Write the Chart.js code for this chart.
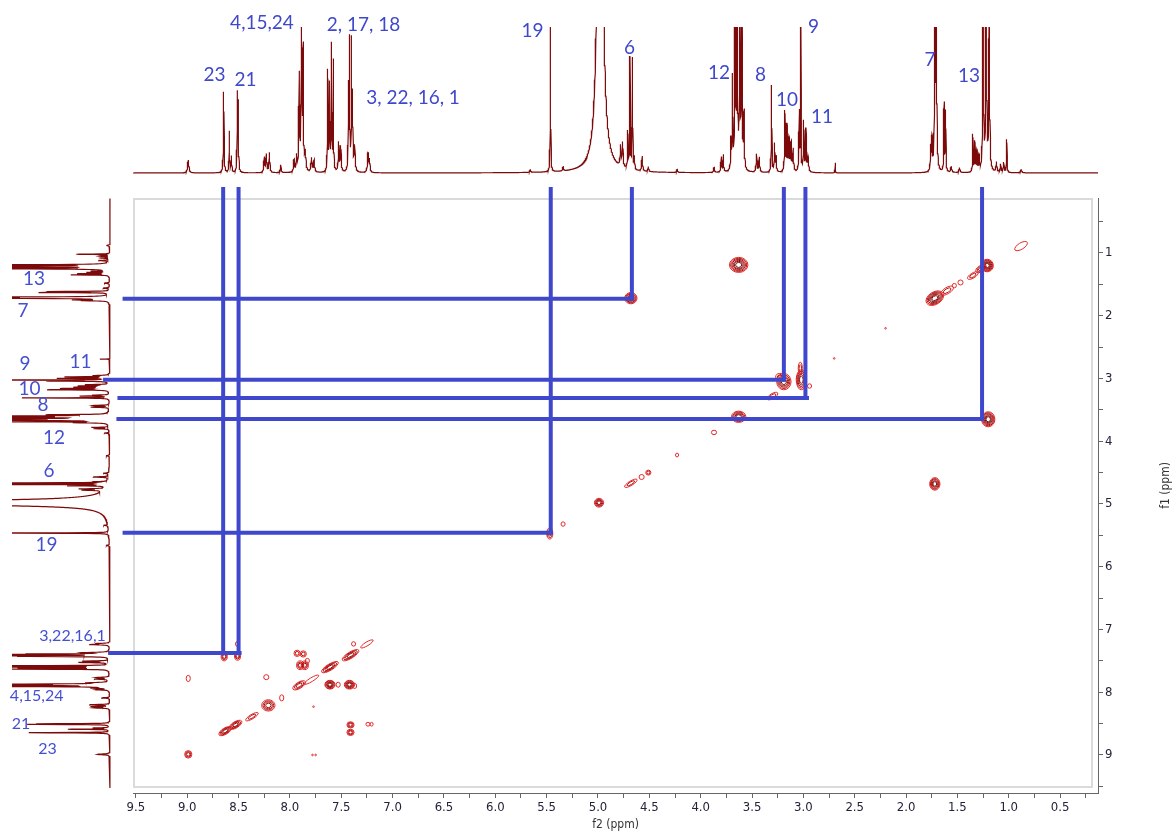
<!DOCTYPE html>
<html>
<head>
<meta charset="utf-8">
<script src="https://cdn.jsdelivr.net/npm/chart.js@4.4.1/dist/chart.umd.min.js"></script>
<style>
  html, body { margin: 0; padding: 0; background: #fff; }
  #wrap { position: relative; width: 1174px; height: 832px; }
  #wrap canvas { position: absolute; left: 0; top: 0; }
</style>
</head>
<body>
<div id="wrap">
  <canvas id="topSpec" width="1174" height="195"></canvas>
  <canvas id="leftSpec" width="133" height="832"></canvas>
  <canvas id="cosy" width="1174" height="832"></canvas>
</div>
<script>
// 1H peak list: [shift ppm, height, half width ppm]
const protonPeaks = [
  [8.99, 13, 0.007],
  [8.645, 81, 0.0035], [8.59, 41, 0.003], [8.57, 16, 0.004],
  [8.512, 76, 0.003], [8.503, 66, 0.003],
  [8.25, 15, 0.005], [8.23, 18, 0.005], [8.20, 20, 0.005], [8.09, 8, 0.005],
  [7.96, 12, 0.005], [7.935, 15, 0.005],
  [7.91, 95, 0.004], [7.888, 150, 0.004], [7.872, 120, 0.004], [7.85, 18, 0.006],
  [7.79, 14, 0.006], [7.765, 12, 0.006],
  [7.632, 100, 0.003], [7.615, 85, 0.003], [7.597, 125, 0.003], [7.578, 110, 0.003],
  [7.525, 29, 0.005], [7.505, 25, 0.005],
  [7.43, 80, 0.003], [7.42, 128, 0.003], [7.40, 127, 0.003], [7.39, 70, 0.003], [7.37, 25, 0.006],
  [7.24, 19, 0.006], [7.225, 12, 0.005],
  [5.66, 3, 0.005], [5.463, 150, 0.0025], [5.34, 4, 0.005],
  [4.98, 700, 0.02],
  [4.78, 20, 0.005], [4.76, 24, 0.005],
  [4.71, 36, 0.003], [4.689, 111, 0.003], [4.665, 111, 0.003], [4.645, 12, 0.003],
  [4.57, 15, 0.005], [4.51, 5, 0.005], [4.23, 3, 0.006],
  [3.87, 5, 0.005], [3.80, 15, 0.004], [3.78, 17, 0.004],
  [3.705, 30, 0.004], [3.69, 90, 0.003], [3.665, 200, 0.004], [3.645, 220, 0.004],
  [3.62, 160, 0.004], [3.60, 200, 0.004], [3.578, 55, 0.004],
  [3.456, 18, 0.005], [3.43, 15, 0.005],
  [3.31, 87, 0.003], [3.28, 28, 0.004], [3.265, 15, 0.004],
  [3.18, 60, 0.004], [3.16, 45, 0.004], [3.14, 32, 0.005], [3.12, 28, 0.005], [3.10, 22, 0.005],
  [3.04, 60, 0.004], [3.025, 150, 0.002],
  [2.997, 50, 0.004], [2.975, 42, 0.004], [2.955, 15, 0.006],
  [2.69, 10, 0.002],
  [1.76, 23, 0.004], [1.748, 30, 0.004], [1.72, 200, 0.004], [1.705, 200, 0.004],
  [1.63, 68, 0.003], [1.615, 60, 0.003], [1.56, 6, 0.006], [1.48, 5, 0.006],
  [1.35, 37, 0.003], [1.33, 30, 0.004], [1.31, 20, 0.004], [1.29, 15, 0.004],
  [1.25, 200, 0.004], [1.22, 260, 0.004], [1.19, 200, 0.004],
  [1.12, 10, 0.005], [1.08, 8, 0.005], [1.05, 10, 0.005], [1.02, 33, 0.003],
  [0.88, 3, 0.008]
];

// COSY contours: [f2, f1, half width f2 (or along diagonal), half width f1, contour levels, along diagonal?]
const diagonalPeaks = [
  [0.88, 0.89, 0.06, 0.05, 1, 1],
  [1.21, 1.20, 0.06, 0.10, 6, 0], [1.27, 1.25, 0.05, 0.05, 3, 1],
  [1.35, 1.36, 0.05, 0.04, 2, 1], [1.47, 1.47, 0.025, 0.04, 1, 0], [1.53, 1.52, 0.02, 0.035, 1, 0],
  [1.60, 1.60, 0.06, 0.05, 2, 1], [1.72, 1.72, 0.08, 0.10, 6, 1],
  [2.20, 2.20, 0.006, 0.01, 1, 0], [2.70, 2.68, 0.006, 0.01, 1, 0],
  [3.30, 3.28, 0.05, 0.04, 2, 1],
  [3.63, 3.61, 0.07, 0.09, 5, 0], [3.87, 3.86, 0.025, 0.035, 1, 0],
  [4.23, 4.22, 0.015, 0.03, 1, 0], [4.51, 4.50, 0.025, 0.04, 2, 0], [4.575, 4.57, 0.025, 0.04, 1, 0],
  [4.68, 4.67, 0.06, 0.035, 2, 1], [4.99, 4.98, 0.045, 0.07, 4, 0],
  [5.34, 5.32, 0.02, 0.035, 1, 0], [5.47, 5.47, 0.03, 0.09, 3, 0],
  [7.25, 7.23, 0.06, 0.03, 1, 1], [7.41, 7.41, 0.08, 0.05, 4, 1], [7.61, 7.60, 0.08, 0.05, 4, 1],
  [7.79, 7.80, 0.07, 0.03, 1, 1], [7.91, 7.89, 0.06, 0.05, 3, 1],
  [8.08, 8.09, 0.02, 0.05, 1, 0], [8.21, 8.21, 0.065, 0.09, 4, 0], [8.37, 8.39, 0.06, 0.035, 2, 1],
  [8.53, 8.52, 0.06, 0.05, 4, 1], [8.63, 8.62, 0.06, 0.05, 4, 1],
  [8.99, 8.99, 0.035, 0.06, 3, 0]
];
const crossPeaks = [
  [3.63, 1.19, 0.09, 0.12, 6, 0], [1.20, 3.65, 0.065, 0.12, 6, 0],
  [4.68, 1.72, 0.06, 0.09, 5, 0], [1.72, 4.68, 0.05, 0.10, 5, 0],
  [3.03, 2.84, 0.02, 0.10, 2, 0], [3.19, 3.05, 0.07, 0.13, 5, 0], [3.23, 2.98, 0.04, 0.06, 2, 0],
  [3.02, 3.02, 0.05, 0.16, 5, 0], [2.94, 3.12, 0.02, 0.035, 1, 0],
  [8.64, 7.43, 0.03, 0.07, 3, 0], [8.51, 7.42, 0.03, 0.07, 3, 0], [8.51, 7.23, 0.02, 0.04, 1, 0],
  [8.99, 7.78, 0.02, 0.05, 1, 0], [8.23, 7.76, 0.025, 0.04, 1, 0],
  [7.93, 7.38, 0.03, 0.05, 2, 0], [7.87, 7.39, 0.03, 0.05, 2, 0],
  [7.90, 7.57, 0.035, 0.07, 3, 0], [7.855, 7.57, 0.035, 0.07, 3, 0], [7.83, 7.50, 0.02, 0.04, 1, 0],
  [7.61, 7.88, 0.05, 0.07, 5, 0], [7.53, 7.88, 0.02, 0.04, 1, 0],
  [7.42, 7.88, 0.05, 0.07, 5, 0], [7.37, 7.90, 0.02, 0.04, 1, 0],
  [7.41, 8.52, 0.035, 0.05, 3, 0], [7.41, 8.64, 0.035, 0.05, 3, 0],
  [7.24, 8.51, 0.02, 0.03, 1, 0], [7.205, 8.51, 0.015, 0.03, 1, 0],
  [7.38, 7.23, 0.02, 0.035, 1, 0],
  [7.77, 8.23, 0.008, 0.01, 1, 0], [7.78, 9.00, 0.008, 0.01, 1, 0], [7.75, 9.00, 0.008, 0.01, 1, 0]
];

// assignment guides: vertical [f2, f1 end], horizontal [f1, f2 start, f2 end]
const verticalLinks = [[8.65, 7.38], [8.50, 7.38], [5.46, 5.46], [4.67, 1.73], [3.19, 3.02], [2.98, 3.31], [1.26, 3.645]];
const horizontalLinks = [[7.375, 9.75, 8.49], [5.46, 9.61, 5.46], [1.73, 9.61, 4.67], [3.02, 9.80, 3.19], [3.31, 9.66, 2.965], [3.645, 9.67, 1.26]];
const linkTop = -0.02;

// labels: [text, f2 ppm, height] on top trace; [text, height, f1 ppm] on side trace
const topLabels = [
  ['23', 8.734, 98], ['21', 8.432, 93], ['4,15,24', 8.272, 150], ['2, 17, 18', 7.283, 148],
  ['3, 22, 16, 1', 6.801, 75], ['19', 5.638, 142], ['6', 4.693, 125], ['12', 3.822, 100],
  ['8', 3.418, 98], ['10', 3.16, 73], ['9', 2.902, 146], ['11', 2.819, 56], ['7', 1.767, 113], ['13', 1.388, 97]
];
const sideLabels = [
  ['13', 76, 1.42], ['7', 87, 1.93], ['9', 85, 2.76], ['11', 29.5, 2.73], ['10', 80.5, 3.16],
  ['8', 67, 3.42], ['12', 56, 3.94], ['6', 61, 4.48], ['19', 63.5, 5.65]
];
const sideLabelsSmall = [
  ['3,22,16,1', 37.5, 7.10], ['4,15,24', 73.3, 8.06], ['21', 89, 8.51], ['23', 62.5, 8.90]
];

const F2_MIN = 0.131, F2_MAX = 9.528;
const F1_MIN = 0.1235, F1_MAX = 9.606;
const BLUE = '#3f48cc';
const TRACE = '#7d0a0a';
const tickFont = { family: "'DejaVu Sans Condensed', 'Liberation Sans Narrow', 'DejaVu Sans', sans-serif", size: 13 };

Chart.defaults.font.family = "'DejaVu Sans', sans-serif";

function traceData(peaks) {
  const xs = [];
  for (let v = F2_MIN; v <= F2_MAX; v += 0.002) xs.push(v);
  peaks.forEach(p => xs.push(p[0]));
  xs.sort((a, b) => a - b);
  return xs.map(v => {
    let s = 0;
    for (const [c, h, w] of peaks) s += h * w * w / (w * w + (v - c) * (v - c));
    return [v, s];
  });
}
const trace = traceData(protonPeaks);

// draws label lists in a chart's own data units
const labelPlugin = {
  id: 'peakLabels',
  afterDatasetsDraw(chart, args, opts) {
    const { ctx, scales: { x, y } } = chart;
    ctx.save();
    ctx.fillStyle = opts.color;
    ctx.textAlign = 'center';
    ctx.textBaseline = 'middle';
    (opts.groups || []).forEach(g => {
      ctx.font = g.font;
      g.items.forEach(it => {
        ctx.fillText(it[0], x.getPixelForValue(it[1]), y.getPixelForValue(it[2]));
      });
    });
    ctx.restore();
  }
};

new Chart(document.getElementById('topSpec'), {
  type: 'scatter',
  data: {
    datasets: [{
      data: trace.map(p => ({ x: p[0], y: p[1] })),
      showLine: true, borderColor: TRACE, borderWidth: 1.2, pointRadius: 0, tension: 0
    }]
  },
  options: {
    responsive: false, animation: false, events: [],
    layout: { padding: { left: 133, right: 76, top: 27, bottom: 20 } },
    scales: {
      x: { type: 'linear', reverse: true, min: F2_MIN, max: F2_MAX, display: false },
      y: { type: 'linear', min: -2, max: 146, display: false }
    },
    plugins: {
      legend: { display: false }, tooltip: { enabled: false },
      peakLabels: { color: BLUE, groups: [{ font: "19px Lato, 'Open Sans', sans-serif", items: topLabels }] }
    }
  },
  plugins: [labelPlugin]
});

new Chart(document.getElementById('leftSpec'), {
  type: 'scatter',
  data: {
    datasets: [{
      data: trace.map(p => ({ x: p[1], y: p[0] })),
      showLine: true, borderColor: TRACE, borderWidth: 1.2, pointRadius: 0, tension: 0
    }]
  },
  options: {
    responsive: false, animation: false, events: [],
    layout: { padding: { left: 12, right: 21, top: 198, bottom: 39 } },
    scales: {
      x: { type: 'linear', reverse: true, min: -2, max: 98, display: false },
      y: { type: 'linear', reverse: true, min: F1_MIN, max: F1_MAX, display: false }
    },
    plugins: {
      legend: { display: false }, tooltip: { enabled: false },
      peakLabels: {
        color: '#4450d0',
        groups: [
          { font: "19px Lato, 'Open Sans', sans-serif", items: sideLabels },
          { font: "16px Lato, 'Open Sans', sans-serif", items: sideLabelsSmall }
        ]
      }
    }
  },
  plugins: [labelPlugin]
});

const cosyPeaks = diagonalPeaks.concat(crossPeaks);

const contourPlugin = {
  id: 'contours',
  beforeDatasetsDraw(chart) {
    const { ctx, chartArea: ca, scales: { x, y } } = chart;
    ctx.save();
    ctx.strokeStyle = '#dadada';
    ctx.lineWidth = 2;
    ctx.strokeRect(ca.left + 1, ca.top + 1, ca.width - 7, ca.height - 7);

    const sx = Math.abs(x.getPixelForValue(0) - x.getPixelForValue(1));
    const sy = Math.abs(y.getPixelForValue(1) - y.getPixelForValue(0));
    const diagAngle = Math.atan2(y.getPixelForValue(0) - y.getPixelForValue(1), x.getPixelForValue(0) - x.getPixelForValue(1));
    const meta = chart.getDatasetMeta(0);
    ctx.lineWidth = 1;
    meta.data.forEach((pt, i) => {
      const [, , w2, w1, levels, diag] = cosyPeaks[i];
      const rx = diag ? w2 * Math.hypot(sx, sy) : w2 * sx;
      const ry = w1 * sy;
      const rot = diag ? diagAngle : 0;
      for (let k = 0; k < levels; k++) {
        const f = 1 - k * 0.8 / levels;
        ctx.beginPath();
        ctx.ellipse(pt.x, pt.y, Math.max(rx * f, 0.8), Math.max(ry * f, 0.8), rot, 0, Math.PI * 2);
        ctx.strokeStyle = k === 0 ? 'rgb(228,40,40)' : `rgb(${Math.max(120, 205 - k * 18)},12,12)`;
        ctx.stroke();
      }
    });
    ctx.restore();
  },
  afterDraw(chart) {
    const { ctx, chartArea: ca } = chart;
    ctx.save();
    ctx.translate(1166, (ca.top + ca.bottom) / 2 - 10);
    ctx.rotate(-Math.PI / 2);
    ctx.font = "12px 'DejaVu Sans Condensed', 'Liberation Sans Narrow', sans-serif";
    ctx.fillStyle = '#333';
    ctx.textAlign = 'center';
    ctx.textBaseline = 'middle';
    ctx.fillText('f1 (ppm)', 0, 0);
    ctx.restore();
  }
};

const guideSets = verticalLinks.map(([f2, f1]) => [{ x: f2, y: linkTop }, { x: f2, y: f1 }])
  .concat(horizontalLinks.map(([f1, a, b]) => [{ x: a, y: f1 }, { x: b, y: f1 }]));

const isHalf = v => Math.abs(v * 2 - Math.round(v * 2)) < 1e-6;

new Chart(document.getElementById('cosy'), {
  type: 'scatter',
  data: {
    datasets: [
      { data: cosyPeaks.map(p => ({ x: p[0], y: p[1] })), pointRadius: 0 },
      ...guideSets.map(d => ({
        data: d, showLine: true, borderColor: BLUE, borderWidth: 4,
        borderCapStyle: 'square', pointRadius: 0, clip: false
      }))
    ]
  },
  options: {
    responsive: false, animation: false, events: [],
    layout: { padding: { left: 133, right: 0, top: 198, bottom: 0 } },
    scales: {
      x: {
        type: 'linear', reverse: true, min: F2_MIN, max: F2_MAX,
        afterFit: s => { s.height = 39; },
        ticks: {
          stepSize: 0.25, includeBounds: false, autoSkip: false, maxRotation: 0, padding: 2,
          color: '#23233a', font: tickFont,
          callback: v => isHalf(v) ? v.toFixed(1) : ''
        },
        grid: { drawOnChartArea: false, tickLength: 5, color: '#666' },
        border: { color: '#666' },
        title: { display: true, text: 'f2 (ppm)', padding: { top: 0, bottom: 0 }, color: '#333',
                 font: { family: tickFont.family, size: 12 } }
      },
      y: {
        type: 'linear', position: 'right', reverse: true, min: F1_MIN, max: F1_MAX,
        afterFit: s => { s.width = 76; },
        ticks: {
          stepSize: 0.5, includeBounds: false, autoSkip: false, padding: 2,
          color: '#23233a', font: tickFont,
          callback: v => Number.isInteger(v) ? String(v) : ''
        },
        grid: { drawOnChartArea: false, tickLength: 5, color: '#666' },
        border: { color: '#666' }
      }
    },
    plugins: { legend: { display: false }, tooltip: { enabled: false } }
  },
  plugins: [contourPlugin]
});
</script>
</body>
</html>
